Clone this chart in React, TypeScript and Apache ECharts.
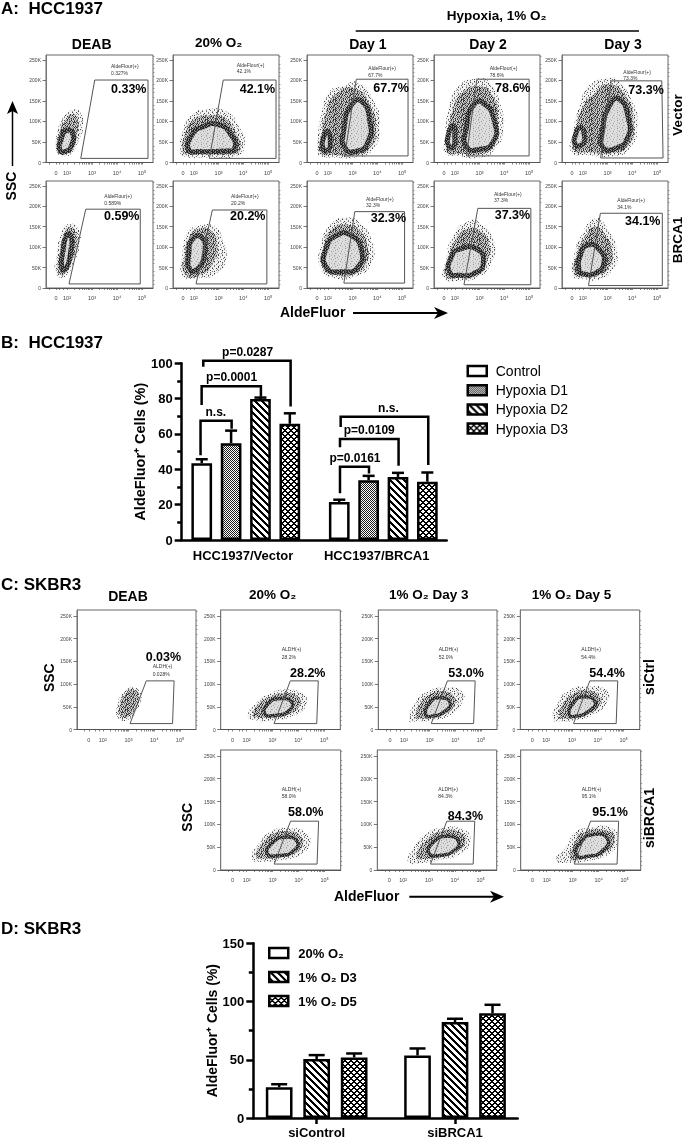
import React, { useEffect, useRef } from "react";
import * as echarts from "echarts";

const FONT = '"Liberation Sans", Arial, sans-serif';

// ---- Bar chart B data ----
const bCategories = ["HCC1937/Vector", "HCC1937/BRCA1"];
const bSeriesNames = ["Control", "Hypoxia D1", "Hypoxia D2", "Hypoxia D3"];
const bControl = [43.5, 21.5];
const bD1 = [54.8, 33.8];
const bD2 = [79.8, 35.7];
const bD3 = [65.8, 33];
const bControlTop = [45.7, 22.8];
const bD1Top = [61.9, 36.3];
const bD2Top = [80.6, 38];
const bD3Top = [71.7, 38.2];
const bBrackets = [
  { label: "n.s.", x1: -0.329, x2: -0.103, top: 67.5, leftEnd: 48, rightEnd: 63, labelX: -0.218 },
  { label: "p=0.0001", x1: -0.321, x2: 0.11, top: 87, leftEnd: 76.4, rightEnd: 81, labelX: -0.103 },
  { label: "p=0.0287", x1: -0.309, x2: 0.326, top: 101.5, leftEnd: 98, rightEnd: 75.5, labelX: 0.013 },
  { label: "n.s.", x1: 0.69, x2: 1.327, top: 69.8, leftEnd: 64, rightEnd: 42.5, labelX: 1.037 },
  { label: "p=0.0109", x1: 0.685, x2: 1.111, top: 57.2, leftEnd: 52.5, rightEnd: 42, labelX: 0.898 },
  { label: "p=0.0161", x1: 0.685, x2: 0.896, top: 41.5, leftEnd: 26.4, rightEnd: 37.7, labelX: 0.794 },
];

// ---- Bar chart D data ----
const dCategories = ["siControl", "siBRCA1"];
const dSeriesNames = ["20% O₂", "1% O₂ D3", "1% O₂ D5"];
const d20 = [26.4, 53.7];
const dD3 = [50.6, 82.4];
const dD5 = [52, 90];
const d20Top = [29, 59.7];
const dD3Top = [54, 85.2];
const dD5Top = [55.4, 97.2];

// ---- Flow plots: contours [log-decade, SSC in K] ----
const yTickValues = [0, 50, 100, 150, 200, 250];
const yMinorValues = [10, 20, 30, 40, 60, 70, 80, 90, 110, 120, 130, 140, 160, 170, 180, 190, 210, 220, 230, 240, 260];

const a1 = [
  [[1.55, 30], [1.6, 70], [1.85, 110], [2.2, 128], [2.5, 125], [2.65, 95], [2.45, 50], [2.15, 20], [1.75, 18]],
  [[1.62, 35], [1.68, 70], [1.95, 105], [2.2, 118], [2.42, 105], [2.4, 70], [2.2, 30], [1.8, 25]],
  [[1.72, 30], [1.78, 60], [1.98, 78], [2.22, 72], [2.17, 40], [1.95, 27]],
];
const a2 = [
  [[1.45, 30], [1.55, 75], [1.9, 115], [2.6, 130], [3.3, 125], [3.85, 85], [4.05, 40], [3.7, 15], [2.5, 12], [1.6, 15]],
  [[1.55, 25], [1.65, 70], [2.0, 105], [2.7, 115], [3.2, 110], [3.75, 65], [3.85, 30], [3.5, 20], [2.5, 20], [1.7, 20]],
  [[1.8, 30], [1.9, 65], [2.4, 88], [3.0, 92], [3.45, 72], [3.65, 35], [3.2, 28], [2.2, 27]],
];
const a3 = [
  [[1.6, 25], [1.6, 60], [1.75, 120], [2.1, 175], [2.6, 185], [3.2, 195], [3.85, 150], [4.1, 90], [3.8, 30], [3.1, 12], [2.2, 12], [1.7, 15]],
  [[1.7, 25], [1.75, 60], [1.9, 115], [2.3, 165], [3.1, 180], [3.7, 140], [3.95, 85], [3.7, 35], [3.1, 18], [2.3, 18]],
  [[2.7, 35], [2.65, 80], [2.95, 140], [3.35, 150], [3.7, 100], [3.62, 50], [3.2, 28]],
  [[1.8, 35], [1.85, 65], [2.0, 75], [2.1, 50], [2.0, 30]],
];
const a4 = [
  [[1.6, 25], [1.6, 60], [1.75, 130], [2.15, 185], [2.9, 205], [3.4, 195], [3.85, 140], [3.95, 80], [3.6, 30], [3.0, 12], [2.2, 15]],
  [[1.7, 25], [1.75, 60], [1.9, 125], [2.3, 170], [3.0, 185], [3.5, 165], [3.75, 100], [3.55, 40], [3.0, 20], [2.2, 22]],
  [[2.47, 39], [2.47, 85], [2.75, 140], [3.15, 145], [3.6, 100], [3.55, 50], [3.0, 32]],
  [[1.75, 40], [1.75, 70], [1.95, 90], [2.0, 60], [1.95, 38]],
];
const a5 = [
  [[1.55, 25], [1.6, 70], [1.9, 145], [2.3, 190], [3.0, 205], [3.4, 200], [4.0, 150], [4.2, 90], [3.9, 35], [3.2, 15], [2.2, 18]],
  [[1.65, 30], [1.7, 70], [2.0, 135], [2.5, 170], [3.0, 190], [3.7, 165], [4.05, 95], [3.8, 40], [3.1, 22], [2.3, 25]],
  [[2.8, 38], [2.8, 80], [3.05, 135], [3.45, 155], [3.85, 105], [3.8, 60], [3.35, 35]],
  [[1.7, 45], [1.72, 70], [1.9, 85], [2.05, 70], [2.0, 45]],
];
const b1 = [
  [[1.55, 35], [1.6, 80], [1.8, 140], [2.1, 157], [2.45, 145], [2.5, 105], [2.25, 60], [1.9, 27]],
  [[1.65, 38], [1.72, 85], [1.9, 135], [2.1, 148], [2.35, 135], [2.35, 100], [2.1, 55], [1.85, 33]],
  [[1.8, 48], [1.85, 95], [2.0, 130], [2.17, 125], [2.15, 90], [1.97, 48]],
];
const b2 = [
  [[1.55, 30], [1.55, 85], [1.75, 135], [2.2, 152], [2.85, 150], [3.2, 110], [3.3, 70], [2.9, 35], [2.2, 25]],
  [[1.65, 33], [1.65, 85], [1.85, 128], [2.2, 145], [2.7, 140], [2.95, 105], [2.8, 65], [2.3, 33]],
  [[1.85, 45], [1.8, 85], [1.95, 120], [2.3, 125], [2.45, 90], [2.2, 50]],
];
const b3 = [
  [[1.7, 50], [1.75, 110], [2.1, 155], [2.7, 172], [3.3, 160], [3.8, 110], [3.75, 60], [3.2, 30], [2.2, 25]],
  [[1.8, 50], [1.85, 105], [2.2, 145], [2.8, 155], [3.3, 140], [3.6, 100], [3.55, 60], [3.1, 35], [2.3, 32]],
  [[1.95, 50], [1.95, 100], [2.4, 130], [2.9, 130], [3.35, 95], [3.2, 50], [2.6, 40]],
];
const b4 = [
  [[1.55, 25], [1.65, 70], [1.9, 125], [2.5, 162], [3.0, 160], [3.6, 110], [3.45, 60], [3.0, 28], [2.2, 18]],
  [[1.65, 28], [1.75, 70], [2.0, 115], [2.5, 145], [3.0, 140], [3.4, 105], [3.25, 60], [2.9, 33], [2.2, 25]],
  [[1.8, 38], [1.85, 75], [2.2, 95], [2.9, 95], [3.15, 60], [2.8, 36], [2.2, 31]],
];
const b5 = [
  [[1.6, 30], [1.65, 80], [1.95, 130], [2.5, 170], [2.95, 150], [3.4, 85], [3.2, 45], [2.7, 22], [2.0, 22]],
  [[1.68, 33], [1.75, 80], [2.05, 120], [2.5, 150], [2.9, 130], [3.2, 85], [3.05, 50], [2.6, 30], [2.0, 28]],
  [[1.85, 42], [1.9, 80], [2.2, 105], [2.65, 95], [2.85, 60], [2.45, 35], [2.0, 35]],
];
const c1 = [
  [[2.6, 25], [2.55, 50], [2.85, 85], [3.2, 93], [3.5, 75], [3.35, 45], [3.0, 22]],
  [[2.68, 30], [2.65, 50], [2.9, 80], [3.2, 88], [3.4, 72], [3.25, 45], [3.0, 28]],
];
const c2 = [
  [[2.05, 28], [2.4, 60], [2.95, 80], [3.5, 88], [4.2, 78], [4.32, 55], [3.8, 30], [3.0, 20], [2.4, 20]],
  [[2.25, 32], [2.55, 60], [3.05, 75], [3.5, 80], [4.0, 72], [4.05, 52], [3.6, 33], [2.95, 27], [2.5, 26]],
  [[2.7, 35], [2.85, 58], [3.3, 68], [3.75, 60], [3.6, 40], [3.1, 31]],
];
const c3 = [
  [[2.2, 20], [2.45, 60], [2.95, 85], [3.5, 92], [4.25, 85], [4.25, 58], [3.8, 32], [3.1, 20], [2.5, 18]],
  [[2.45, 27], [2.65, 58], [3.05, 78], [3.5, 84], [3.95, 72], [3.95, 52], [3.55, 33], [3.0, 26], [2.65, 24]],
  [[2.85, 32], [3.0, 58], [3.4, 70], [3.8, 58], [3.55, 38], [3.15, 30]],
];
const c4 = [
  [[2.27, 22], [2.45, 60], [2.95, 88], [3.5, 94], [4.3, 88], [4.38, 62], [3.8, 32], [3.1, 20], [2.55, 18]],
  [[2.5, 27], [2.7, 60], [3.1, 80], [3.55, 86], [4.05, 74], [4.1, 55], [3.6, 33], [3.05, 26], [2.7, 24]],
  [[2.9, 32], [3.05, 58], [3.45, 72], [3.9, 60], [3.6, 38], [3.2, 30]],
];
const c5 = [
  [[2.2, 25], [2.5, 60], [2.95, 85], [3.6, 92], [4.2, 85], [4.45, 60], [4.1, 35], [3.4, 22], [2.7, 18]],
  [[2.35, 30], [2.65, 60], [3.05, 80], [3.6, 85], [4.05, 75], [4.15, 55], [3.8, 35], [3.2, 27], [2.7, 25]],
  [[2.8, 36], [3.0, 60], [3.5, 72], [3.95, 62], [3.8, 42], [3.3, 32]],
];
const c6 = [
  [[2.2, 18], [2.35, 45], [2.9, 80], [3.5, 92], [4.3, 90], [4.6, 65], [4.2, 35], [3.4, 22], [2.7, 15]],
  [[2.5, 28], [2.9, 65], [3.5, 85], [4.2, 82], [4.4, 62], [4.0, 38], [3.3, 28], [2.8, 24]],
  [[3.0, 36], [3.15, 60], [3.7, 74], [4.15, 62], [3.95, 42], [3.4, 32]],
];
const c7 = [
  [[2.35, 22], [2.75, 50], [3.1, 82], [3.6, 92], [4.5, 92], [4.72, 65], [4.4, 35], [3.6, 20], [2.9, 16]],
  [[2.9, 25], [3.05, 55], [3.4, 82], [4.4, 85], [4.6, 65], [4.25, 38], [3.6, 27], [3.1, 22]],
  [[3.15, 33], [3.3, 60], [3.8, 78], [4.35, 68], [4.15, 42], [3.6, 30]],
];

const gateA1 = [[2.55, 10], [3.11, 201], [5.24, 201], [5.24, 10]];
const gateA2 = [[2.63, 10], [3.19, 201], [5.32, 201], [5.32, 10]];
const gateA3 = [[2.68, 16], [3.15, 203], [5.24, 203], [5.24, 16]];
const gateA4 = [[2.47, 16], [2.89, 203], [5.0, 203], [5.0, 16]];
const gateA5 = [[2.72, 11], [3.15, 199], [5.19, 199], [5.24, 11]];
const gateB1 = [[2.08, 10], [2.75, 193], [4.93, 193], [4.93, 10]];
const gateB2 = [[2.09, 10], [2.75, 191], [4.95, 191], [4.95, 10]];
const gateB3 = [[2.65, 12], [3.09, 187], [5.1, 187], [5.1, 12]];
const gateB4 = [[2.37, 8], [2.93, 195], [5.07, 195], [5.07, 8]];
const gateB5 = [[2.23, 6], [2.71, 183], [5.21, 183], [5.21, 6]];
const gateC = [[3.06, 13], [3.69, 107], [4.77, 107], [4.71, 13]];

const smallA = "AldeFlour(+)";
const smallC = "ALDH(+)";

// layout of the 17 flow plots: box, then small and big annotation positions
const aX = { xMin: 1.16, xMax: 5.44, zero: 1.56, yMax: 262, rim: 5 };
const cX = { xMin: 1.0, xMax: 5.62, zero: 1.46, yMax: 263, rim: 3.5 };
const flowPanels = [
  { ...aX, l: 46, r: 153, t: 55, b: 162.5, c: a1, g: gateA1, name: smallA, small: "0.327%", big: "0.33%", sx: 111, sy1: 66.3, sy2: 72.7, bx: 111, by: 88.7 },
  { ...aX, l: 173, r: 279, t: 55, b: 162.5, c: a2, g: gateA2, name: smallA, small: "42.1%", big: "42.1%", sx: 236.7, sy1: 64.7, sy2: 71.3, bx: 239.7, by: 88.7 },
  { ...aX, l: 307, r: 413, t: 55, b: 162.5, c: a3, g: gateA3, name: smallA, small: "67.7%", big: "67.7%", sx: 368.3, sy1: 68, sy2: 75, bx: 373.3, by: 87.7 },
  { ...aX, l: 434, r: 540, t: 55, b: 162.5, c: a4, g: gateA4, name: smallA, small: "78.6%", big: "78.6%", sx: 489.7, sy1: 68, sy2: 75, bx: 495, by: 88 },
  { ...aX, l: 562, r: 668, t: 55, b: 162.5, c: a5, g: gateA5, name: smallA, small: "73.3%", big: "73.3%", sx: 623.3, sy1: 72, sy2: 78.3, bx: 628.3, by: 90 },
  { ...aX, l: 46, r: 153, t: 181, b: 288, c: b1, g: gateB1, name: smallA, small: "0.589%", big: "0.59%", sx: 104.3, sy1: 196, sy2: 203.3, bx: 104, by: 216.3 },
  { ...aX, l: 173, r: 279, t: 181, b: 288, c: b2, g: gateB2, name: smallA, small: "20.2%", big: "20.2%", sx: 231, sy1: 196, sy2: 203.3, bx: 230, by: 216.3 },
  { ...aX, l: 307, r: 413, t: 181, b: 288, c: b3, g: gateB3, name: smallA, small: "32.3%", big: "32.3%", sx: 366, sy1: 198.7, sy2: 205.3, bx: 370.7, by: 218.3 },
  { ...aX, l: 434, r: 540, t: 181, b: 288, c: b4, g: gateB4, name: smallA, small: "37.3%", big: "37.3%", sx: 494, sy1: 194, sy2: 200.3, bx: 494.7, by: 215 },
  { ...aX, l: 562, r: 668, t: 181, b: 288, c: b5, g: gateB5, name: smallA, small: "34.1%", big: "34.1%", sx: 617.3, sy1: 200.3, sy2: 207, bx: 625, by: 220.7 },
  { ...cX, l: 77, r: 196, t: 610, b: 729.5, c: c1, g: gateC, name: smallC, small: "0.028%", big: "0.03%", sx: 152.7, sy1: 666, sy2: 673.7, bx: 145.7, by: 656.7 },
  { ...cX, l: 220.7, r: 340.3, t: 610, b: 729.5, c: c2, g: gateC, name: smallC, small: "28.2%", big: "28.2%", sx: 281.7, sy1: 649.3, sy2: 656.7, bx: 290, by: 673.3 },
  { ...cX, l: 378.3, r: 497, t: 610, b: 729.5, c: c3, g: gateC, name: smallC, small: "52.0%", big: "53.0%", sx: 438.7, sy1: 649.3, sy2: 656.7, bx: 448.3, by: 673.3 },
  { ...cX, l: 520.3, r: 639.7, t: 610, b: 729.5, c: c4, g: gateC, name: smallC, small: "54.4%", big: "54.4%", sx: 581.3, sy1: 649.3, sy2: 656.7, bx: 589.3, by: 673.3 },
  { ...cX, l: 220.7, r: 340.7, t: 750, b: 870, c: c5, g: gateC, name: smallC, small: "58.0%", big: "58.0%", sx: 281.7, sy1: 788.7, sy2: 796, bx: 288, by: 812.3 },
  { ...cX, l: 377.3, r: 496.7, t: 750, b: 870, c: c6, g: gateC, name: smallC, small: "84.3%", big: "84.3%", sx: 438.3, sy1: 788.7, sy2: 796, bx: 447.7, by: 816 },
  { ...cX, l: 520.7, r: 640.7, t: 750, b: 870, c: c7, g: gateC, name: smallC, small: "95.1%", big: "95.1%", sx: 581.7, sy1: 788.7, sy2: 796, bx: 592.3, by: 812.3 },
];

// ---- fill textures ----
const tileStripe = ["###....", ".###...", "..###..", "...###.", "....###", "#....##", "##....#"];
const tileCross = ["##..##", "#....#", "##..##", ".####.", "..##..", ".####."];
const tileDots = ["#.", ".#"];
const tileRim = [
  "kgk.kkg.kgkkg.kk",
  ".kkgk.kkgk.gkk.g",
  "gk.kkgk.kkgk.gkk",
  "kkg.gk.gk.kkgk.k",
  ".gkkk.kk.kgk.kkg",
  "kk.gkkg.kkg.kgk.",
  "gkk.k.kkg.kkgk.k",
  "k.gkkgk.kkgk.kkg",
];
const tileMid = [
  "k.lg.l.k..g.lk.g",
  ".g.l.kg.g.k.gl.k",
  "l.k..g.l.kgk.g.l",
  "gk.glk.g.l..g.k.",
  "g.l.k.k..kg.l.gk",
  ".k.g.lg.k..l.gk.",
  "l.gk.g.l.g.k.gl.",
  ".gl.gk..l.k.kg.k",
  "k.g.g.lk.g.g.l.g",
  ".l.k.g.g.k.l.kgk",
];
const tileHalo = [
  "..m.g...l...l...m...",
  ".m....l..g....m....l",
  "..l...l...m...m...g.",
  "..g...m.....l.....g.",
  "l.......m...g...g...",
  "l...g...m....l...m..",
  "...m..l...g.....l.m.",
  ".m...g......m.g.....",
  "....l..g..m......l..",
  "g...m.....l...g...m.",
  "..g...m...g...l...g.",
  "..l.....g...m....l..",
];
const tileInner = [
  "aaabaaaaacaaaaba",
  "acaaaabaaaaabaaa",
  "aaaaaaaaabaaaaac",
  "aabaacaaaaacabaa",
  "aaaaaaaabaaaaaaa",
  "baaacaaaaaaabaac",
  "aaaaaabaacaaaaaa",
  "aabaaaaaaaabaaca",
];

function makePattern(rows: string[], palette: Record<string, string>, bg?: string) {
  const h = rows.length;
  const w = rows[0].length;
  const canvas = document.createElement("canvas");
  canvas.width = w;
  canvas.height = h;
  const ctx = canvas.getContext("2d")!;
  if (bg) {
    ctx.fillStyle = bg;
    ctx.fillRect(0, 0, w, h);
  }
  rows.forEach((row, y) =>
    row.split("").forEach((ch, x) => {
      if (palette[ch]) {
        ctx.fillStyle = palette[ch];
        ctx.fillRect(x, y, 1, 1);
      }
    })
  );
  return { image: canvas, repeat: "repeat", imageWidth: w, imageHeight: h };
}

function text(t: string, x: number, y: number, size: number, extra: any = {}) {
  const { rotation, weight, fill, align, z } = extra;
  return {
    type: "text",
    x,
    y,
    rotation: rotation ?? 0,
    z: z ?? 50,
    silent: true,
    style: {
      text: t,
      x: 0,
      y: 0,
      align: align ?? "left",
      verticalAlign: "middle",
      fontFamily: FONT,
      fontSize: size,
      fontWeight: weight ?? "bold",
      fill: fill ?? "#000",
    },
  };
}

function arrowRight(x1: number, x2: number, y: number) {
  return [
    { type: "line", z: 50, silent: true, shape: { x1, y1: y, x2: x2 - 10, y2: y }, style: { stroke: "#000", lineWidth: 2 } },
    {
      type: "polygon",
      z: 50,
      silent: true,
      shape: { points: [[x2, y], [x2 - 14, y - 6], [x2 - 10, y], [x2 - 14, y + 6]] },
      style: { fill: "#000" },
    },
  ];
}

function buildOption() {
  const rimFill = makePattern(tileRim, { k: "#202020", g: "#555555", ".": "#8c8c8c" });
  const midFill = makePattern(tileMid, { k: "#262626", g: "#5a5a5a", l: "#8e8e8e" }, "#cfcfcf");
  const haloFill = makePattern(tileHalo, { g: "#444", m: "#777", l: "#a0a0a0" }, "#f2f2f2");
  const innerFill = makePattern(tileInner, { a: "#dedede", b: "#b4b4b4", c: "#969696" });
  const stripe = makePattern(tileStripe, { "#": "#000" }, "#fff");
  const cross = makePattern(tileCross, { "#": "#000" }, "#fff");
  const dots = makePattern(tileDots, { "#": "#1c1c1c" }, "#fff");

  const grid: any[] = [];
  const xAxis: any[] = [];
  const yAxis: any[] = [];
  const series: any[] = [];
  const graphic: any[] = [];

  const xMinorTicks: number[] = [];
  [2, 3, 4].forEach((d) => [1, 2, 3, 4, 5, 6, 7, 8, 9].forEach((m) => xMinorTicks.push(d + Math.log10(m))));
  const supers: Record<number, string> = { 2: "10²", 3: "10³", 4: "10⁴", 5: "10⁵" };

  flowPanels.forEach((p, i) => {
    grid.push({
      left: p.l,
      top: p.t,
      width: p.r - p.l,
      height: p.b - p.t,
      show: true,
      borderColor: "#666",
      borderWidth: 1,
      containLabel: false,
    });
    xAxis.push({
      type: "value",
      gridIndex: i,
      min: p.xMin,
      max: p.xMax,
      splitLine: { show: false },
      axisLine: { onZero: false, lineStyle: { color: "#555", width: 1 } },
      axisTick: {
        show: true,
        customValues: [1.3, p.zero, 1.7, 1.85, ...xMinorTicks, 5],
        length: 2,
        lineStyle: { color: "#555", width: 0.7 },
      },
      axisLabel: {
        show: true,
        customValues: [p.zero, 2, 3, 4, 5],
        formatter: (v: number) => (v === p.zero ? "0" : supers[v]),
        fontFamily: FONT,
        fontSize: 5.5,
        color: "#444",
        margin: 7,
        hideOverlap: false,
      },
    });
    yAxis.push({
      type: "value",
      gridIndex: i,
      min: 0,
      max: p.yMax,
      splitLine: { show: false },
      axisLine: { onZero: false, lineStyle: { color: "#777", width: 1 } },
      axisTick: { show: true, customValues: yTickValues, length: 3.5, lineStyle: { color: "#555", width: 0.8 } },
      axisLabel: {
        show: true,
        customValues: yTickValues,
        formatter: (v: number) => (v === 0 ? "0" : `${v}K`),
        fontFamily: FONT,
        fontSize: 5,
        color: "#444",
        margin: 5,
        hideOverlap: false,
      },
    });
    yAxis.push({
      type: "value",
      gridIndex: i,
      min: 0,
      max: p.yMax,
      splitLine: { show: false },
      axisLine: { show: false, onZero: false },
      axisTick: { show: true, customValues: yMinorValues, length: 1.5, lineStyle: { color: "#666", width: 0.6 } },
      axisLabel: { show: false },
    });

    const xIdx = i;
    const yIdx = 2 * i;
    p.c.forEach((pts: number[][], k: number) => {
      const style: any =
        k === 0
          ? { fill: haloFill }
          : k === 1
          ? { fill: midFill }
          : { fill: innerFill, stroke: rimFill, lineWidth: p.rim };
      series.push({
        type: "custom",
        coordinateSystem: "cartesian2d",
        xAxisIndex: xIdx,
        yAxisIndex: yIdx,
        silent: true,
        data: pts,
        renderItem: (params: any, api: any) =>
          params.dataIndex !== 0
            ? null
            : {
                type: "polygon",
                shape: { points: pts.map((q) => api.coord(q)), smooth: 0.6 },
                style,
              },
      });
    });
    series.push({
      type: "custom",
      coordinateSystem: "cartesian2d",
      xAxisIndex: xIdx,
      yAxisIndex: yIdx,
      silent: true,
      data: p.g,
      renderItem: (params: any, api: any) =>
        params.dataIndex !== 0
          ? null
          : {
              type: "polygon",
              shape: { points: p.g.map((q) => api.coord(q)) },
              style: { fill: "none", stroke: "#555", lineWidth: 1 },
            },
    });

    graphic.push(text(p.name, p.sx, p.sy1, 5, { weight: "normal", fill: "#333" }));
    graphic.push(text(p.small, p.sx, p.sy2, 5, { weight: "normal", fill: "#333" }));
    graphic.push(text(p.big, p.bx, p.by, 12.5));
  });

  // Bar charts
  const bGrid = grid.length;
  grid.push({ left: 181.7, top: 363.3, width: 265, height: 176.7, containLabel: false });
  const dGrid = grid.length;
  grid.push({ left: 253.3, top: 943.3, width: 264.4, height: 176, containLabel: false });

  const bXIdx = xAxis.length;
  xAxis.push({
    type: "value",
    gridIndex: bGrid,
    min: -0.466,
    max: 1.461,
    splitLine: { show: false },
    axisLine: { onZero: false, lineStyle: { color: "#000", width: 2.5 } },
    axisTick: { show: false },
    axisLabel: {
      customValues: [-0.02, 0.952],
      formatter: (v: number) => (v < 0.5 ? bCategories[0] : bCategories[1]),
      fontFamily: FONT,
      fontSize: 13,
      fontWeight: "bold",
      color: "#000",
      margin: 9,
      hideOverlap: false,
    },
  });
  const dXIdx = xAxis.length;
  xAxis.push({
    type: "value",
    gridIndex: dGrid,
    min: -0.458,
    max: 1.453,
    splitLine: { show: false },
    axisLine: { onZero: false, lineStyle: { color: "#000", width: 2.5 } },
    axisTick: { show: true, customValues: [0, 1], length: 6, lineStyle: { color: "#000", width: 2.5 } },
    axisLabel: {
      customValues: [0, 1],
      formatter: (v: number) => dCategories[v],
      fontFamily: FONT,
      fontSize: 13,
      fontWeight: "bold",
      color: "#000",
      margin: 8,
      hideOverlap: false,
    },
  });
  const barY = (gridIndex: number, max: number, interval: number, nameGap: number, nameSize: number) => ({
    type: "value",
    gridIndex,
    min: 0,
    max,
    interval,
    name: "AldeFluor⁺ Cells (%)",
    nameLocation: "middle",
    nameGap,
    nameTextStyle: { fontFamily: FONT, fontSize: nameSize, fontWeight: "bold", color: "#000" },
    splitLine: { show: false },
    axisLine: { show: true, onZero: false, lineStyle: { color: "#000", width: 2.5 } },
    axisTick: { show: true, length: 7, lineStyle: { color: "#000", width: 2.5 } },
    minorTick: { show: true, splitNumber: 2, length: 4.5, lineStyle: { color: "#000", width: 2.5 } },
    axisLabel: { fontFamily: FONT, fontSize: 13, fontWeight: "bold", color: "#000", margin: 9 },
  });
  const bYIdx = yAxis.length;
  yAxis.push(barY(bGrid, 100, 20, 33, 14.5));
  const dYIdx = yAxis.length;
  yAxis.push(barY(dGrid, 150, 50, 32, 14));

  const addBars = (
    names: string[],
    means: number[][],
    tops: number[][],
    fills: any[],
    step: number,
    xIdx: number,
    yIdx: number,
    barWidth: number,
    cap: number,
    stack: string
  ) => {
    const n = names.length;
    names.forEach((name, s) => {
      const off = (s - (n - 1) / 2) * step;
      series.push({
        type: "custom",
        coordinateSystem: "cartesian2d",
        xAxisIndex: xIdx,
        yAxisIndex: yIdx,
        silent: true,
        data: means[s].map((m, g) => [g + off, m, tops[s][g]]),
        encode: { x: 0, y: [1, 2] },
        renderItem: (_: any, api: any) => {
          const x = api.value(0);
          const a = api.coord([x, api.value(1)]);
          const b = api.coord([x, api.value(2)]);
          return {
            type: "group",
            children: [
              { type: "line", shape: { x1: a[0], y1: a[1], x2: b[0], y2: b[1] }, style: { stroke: "#000", lineWidth: 2.5 } },
              { type: "line", shape: { x1: b[0] - cap / 2, y1: b[1], x2: b[0] + cap / 2, y2: b[1] }, style: { stroke: "#000", lineWidth: 2.5 } },
            ],
          };
        },
      });
      series.push({
        type: "bar",
        name,
        stack,
        xAxisIndex: xIdx,
        yAxisIndex: yIdx,
        barWidth,
        itemStyle: { color: fills[s], borderColor: "#000", borderWidth: 2.5 },
        data: means[s].map((m, g) => [g + off, m]),
      });
    });
  };
  addBars(
    bSeriesNames,
    [bControl, bD1, bD2, bD3],
    [bControlTop, bD1Top, bD2Top, bD3Top],
    ["#fff", dots, stripe, cross],
    0.2135,
    bXIdx,
    bYIdx,
    20.7,
    12,
    "b"
  );
  addBars(dSeriesNames, [d20, dD3, dD5], [d20Top, dD3Top, dD5Top], ["#fff", stripe, cross], 0.271, dXIdx, dYIdx, 26.7, 16, "d");

  series.push({
    type: "custom",
    coordinateSystem: "cartesian2d",
    xAxisIndex: bXIdx,
    yAxisIndex: bYIdx,
    silent: true,
    clip: false,
    data: bBrackets.map((d) => [d.x1, d.top]),
    renderItem: (params: any, api: any) => {
      const d = bBrackets[params.dataIndex];
      const pts = [[d.x1, d.leftEnd], [d.x1, d.top], [d.x2, d.top], [d.x2, d.rightEnd]].map((q) => api.coord(q));
      const lab = api.coord([d.labelX, d.top]);
      return {
        type: "group",
        children: [
          { type: "polyline", shape: { points: pts }, style: { stroke: "#000", lineWidth: 2.5, fill: "none" } },
          {
            type: "text",
            style: {
              text: d.label,
              x: lab[0],
              y: lab[1] - 3,
              align: "center",
              verticalAlign: "bottom",
              fontFamily: FONT,
              fontSize: 12,
              fontWeight: "bold",
              fill: "#000",
            },
          },
        ],
      };
    },
  });

  // Titles and annotations
  const T = 17;
  graphic.push(text("A:  HCC1937", 1, 8, T));
  graphic.push(text("B:  HCC1937", 1, 342, T));
  graphic.push(text("C: SKBR3", 1, 584.3, T));
  graphic.push(text("D: SKBR3", 1, 928, T));
  graphic.push(text("DEAB", 91.7, 43.7, 14, { align: "center" }));
  graphic.push(text("20% O₂", 195, 42, 13.5));
  graphic.push(text("Hypoxia, 1% O₂", 446.7, 15.5, 13.5));
  graphic.push({ type: "line", z: 50, silent: true, shape: { x1: 355.7, y1: 31, x2: 639, y2: 31 }, style: { stroke: "#000", lineWidth: 1.5 } });
  graphic.push(text("Day 1", 367.8, 44, 14, { align: "center" }));
  graphic.push(text("Day 2", 488, 44, 14, { align: "center" }));
  graphic.push(text("Day 3", 623, 44, 14, { align: "center" }));
  graphic.push(text("Vector", 677, 115, 13.5, { align: "center", rotation: Math.PI / 2 }));
  graphic.push(text("BRCA1", 677, 240, 13.5, { align: "center", rotation: Math.PI / 2 }));
  graphic.push(text("SSC", 11, 186, 14, { align: "center", rotation: Math.PI / 2 }));
  graphic.push({ type: "line", z: 50, silent: true, shape: { x1: 12.5, y1: 166, x2: 12.5, y2: 110 }, style: { stroke: "#000", lineWidth: 1.5 } });
  graphic.push({ type: "polygon", z: 50, silent: true, shape: { points: [[12.5, 101], [7, 114], [12.5, 111], [18, 114]] }, style: { fill: "#000" } });
  graphic.push(text("AldeFluor", 280, 311.5, 14));
  graphic.push(...arrowRight(353, 448, 313));

  graphic.push(text("DEAB", 128, 596.3, 14, { align: "center" }));
  graphic.push(text("20% O₂", 249, 594.3, 13.5));
  graphic.push(text("1% O₂ Day 3", 389, 594.3, 13.5));
  graphic.push(text("1% O₂ Day 5", 531.7, 594.3, 13.5));
  graphic.push(text("siCtrl", 649.3, 677, 14, { align: "center", rotation: Math.PI / 2 }));
  graphic.push(text("siBRCA1", 649.3, 818, 14, { align: "center", rotation: Math.PI / 2 }));
  graphic.push(text("SSC", 49.3, 677.7, 14, { align: "center", rotation: Math.PI / 2 }));
  graphic.push(text("SSC", 186.7, 817.3, 14, { align: "center", rotation: Math.PI / 2 }));
  graphic.push(text("AldeFluor", 334, 895.7, 14));
  graphic.push(...arrowRight(409.3, 504, 896.7));

  const legendIcon = { color: "inherit", borderColor: "#000", borderWidth: 2.5 };
  const legend = [
    {
      data: bSeriesNames,
      orient: "vertical",
      left: 466.5,
      top: 363,
      padding: 0,
      itemWidth: 19,
      itemHeight: 10,
      itemGap: 3.2,
      icon: "rect",
      itemStyle: legendIcon,
      selectedMode: false,
      textStyle: { fontFamily: FONT, fontSize: 14, color: "#000", padding: [0, 0, 0, 4], lineHeight: 16 },
    },
    {
      data: dSeriesNames,
      orient: "vertical",
      left: 268,
      top: 945,
      padding: 0,
      itemWidth: 19,
      itemHeight: 10,
      itemGap: 8,
      icon: "rect",
      itemStyle: legendIcon,
      selectedMode: false,
      textStyle: { fontFamily: FONT, fontSize: 13, fontWeight: "bold", color: "#000", padding: [0, 0, 0, 5], lineHeight: 16 },
    },
  ];

  return { animation: false, backgroundColor: "#fff", grid, xAxis, yAxis, series, legend, graphic };
}

export default function App() {
  const ref = useRef<HTMLDivElement>(null);
  useEffect(() => {
    const chart = echarts.init(ref.current!, undefined, { renderer: "svg" });
    chart.setOption(buildOption() as any);
    return () => chart.dispose();
  }, []);
  return <div ref={ref} style={{ position: "absolute", left: 0, top: 0, width: 685, height: 1139, filter: "blur(0.45px)" }} />;
}
